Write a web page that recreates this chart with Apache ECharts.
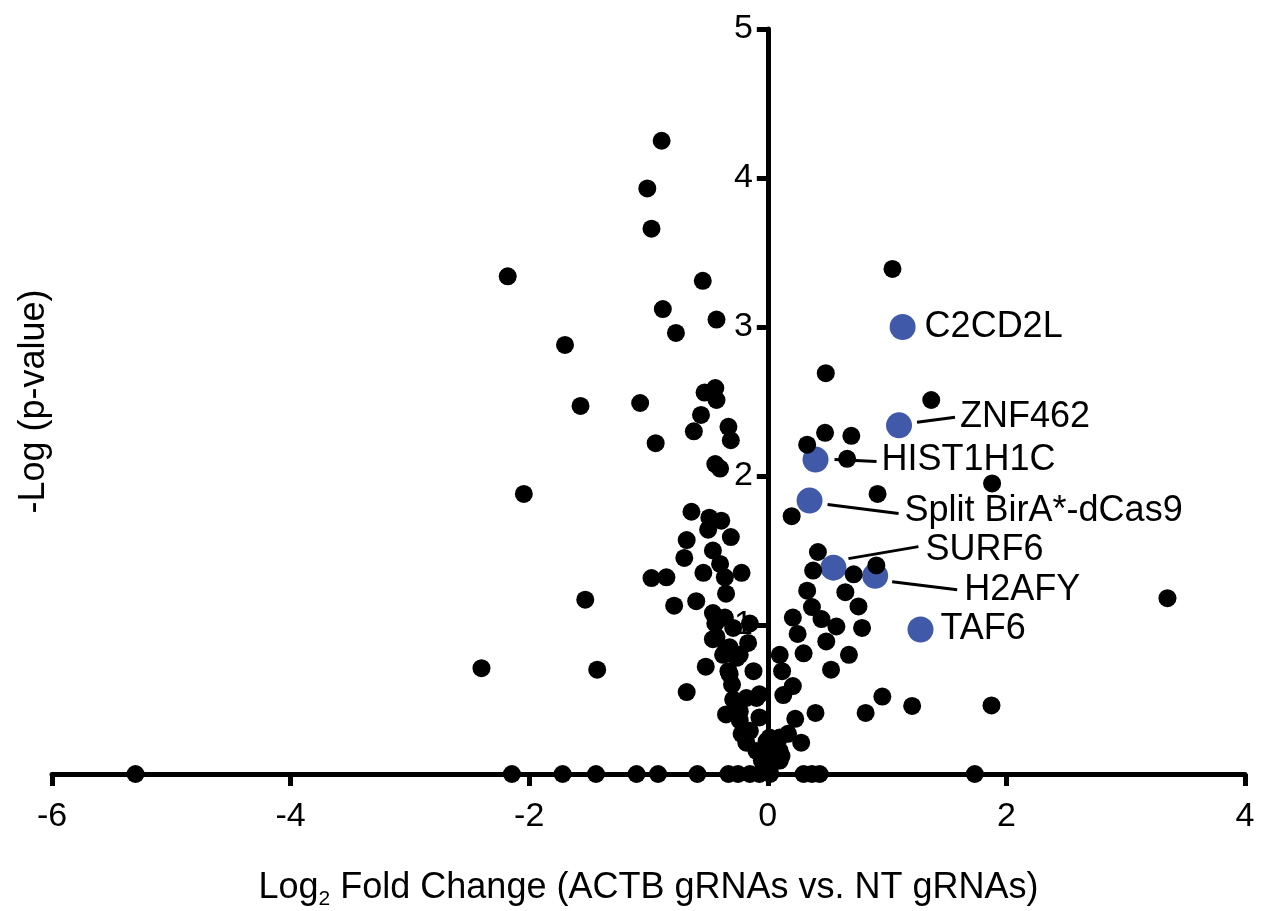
<!DOCTYPE html>
<html><head><meta charset="utf-8">
<script src="https://cdn.jsdelivr.net/npm/echarts@6/dist/echarts.min.js"></script>
<style>html,body{margin:0;padding:0;background:#fff}#c{width:1266px;height:911px}</style>
</head><body><div id="c"></div>
<script>
// ---- data ----
const xTicks = [-6, -4, -2, 0, 2, 4];
const yTicks = [0, 1, 2, 3, 4, 5];
const blackX = [
 -0.89,-1.01,-0.975,-2.18,-0.545,-0.88,-0.43,-0.77,-1.70,-1.57,
 -1.07,-0.53,-0.44,-0.43,-0.56,-0.33,-0.31,-0.62,-0.94,-0.44,
 -0.40,-2.045,-0.64,-0.49,-0.39,-0.50,-0.31,-0.68,-0.46,-0.70,
 -0.40,-0.54,-0.22,-0.975,-0.85,-0.36,-0.35,-1.53,-0.60,-0.785,
 -0.46,-0.36,-0.15,-0.44,-0.46,-0.165,-0.35,-0.26,-0.52,-2.40,
 -1.43,-0.32,-0.12,-0.30,-0.68,-0.07,-0.29,-0.35,-0.235,-0.07,
 -0.22,-0.18,-0.095,-0.05,0.045,0.10,0.12,0.13,-0.43,-0.29,
 -0.32,-0.375,-0.235,-0.33,-0.18,-0.095,-0.235,-0.15,-0.04,0.015,
 0.07,0.015,0.10,-0.01,0.10,
 1.045,0.486,1.37,0.48,0.70,0.33,0.665,1.88,0.92,0.20,
 0.42,0.91,0.38,0.72,0.33,0.65,3.35,0.37,0.76,0.21,
 0.45,0.575,0.79,0.25,0.49,0.30,0.68,0.53,0.21,0.96,
 1.21,1.875,0.82,0.40,0.23,0.28,0.10,0.17,0.115,0.03,
 -5.30,-2.145,-1.72,-1.44,-1.10,-0.92,-0.59,-0.33,-0.25,-0.15,
 -0.07,0.02,0.30,0.37,0.435,1.735
];
const blackY = [
 4.25,3.93,3.66,3.34,3.31,3.12,3.05,2.96,2.88,2.47,
 2.49,2.56,2.59,2.51,2.41,2.33,2.24,2.30,2.22,2.08,
 2.05,1.88,1.76,1.72,1.70,1.64,1.59,1.57,1.50,1.45,
 1.41,1.35,1.35,1.315,1.32,1.32,1.21,1.17,1.16,1.13,
 1.08,1.05,1.01,1.01,0.905,0.88,0.84,0.78,0.72,0.71,
 0.70,0.67,0.69,0.60,0.55,0.535,0.50,0.40,0.42,0.38,
 0.27,0.21,0.155,0.09,0.20,0.80,0.69,0.53,0.92,0.98,
 0.85,0.80,0.80,0.69,0.51,0.51,0.36,0.29,0.09,0.245,
 0.18,0.11,0.09,0.22,0.155,
 3.39,2.69,2.51,2.29,2.27,2.21,2.115,1.95,1.88,1.73,
 1.49,1.40,1.365,1.34,1.23,1.22,1.18,1.12,1.125,1.05,
 1.04,0.99,0.98,0.94,0.89,0.81,0.80,0.70,0.59,0.52,
 0.457,0.46,0.41,0.41,0.37,0.21,0.245,0.27,0.12,0.065,
 0,0,0,0,0,0,0,0,0,0,
 0,0,0,0,0,0
];
const blueNames = ['C2CD2L', 'ZNF462', 'HIST1H1C', 'Split BirA*-dCas9', 'SURF6', 'H2AFY', 'TAF6'];
const blueX = [1.13, 1.10, 0.40, 0.35, 0.55, 0.90, 1.28];
const blueY = [3.00, 2.34, 2.11, 1.835, 1.385, 1.33, 0.97];

// ---- layout (pixels, relative to each highlighted point) ----
const labelPos = [[22,0],[61,-8],[66,0],[95,10],[92,-18],[89,14],[20,0]];
const leaders = [null,[18,-3,56,-8],[19,0,61,2],[18,4,89,13],[15,-9,85,-21],[17,6,82,14],null];

const FONT = "'Liberation Sans', Arial, Helvetica, sans-serif";
const BLUE_R = 13;
const GRID = {left: 52, right: 21, top: 29, bottom: 137};
const W = 1266;
const xMin = xTicks[0], xMax = xTicks[xTicks.length - 1];
// shift the y axis so that it sits on x = 0
const yAxisShift = -(W - GRID.left - GRID.right) * (0 - xMin) / (xMax - xMin);

const chart = echarts.init(document.getElementById('c'), null, {renderer: 'canvas'});
const blackData = blackX.map((x, i) => [x, blackY[i]]);
const blueData = blueX.map((x, i) => ({
  value: [x, blueY[i]],
  name: blueNames[i],
  label: {offset: [labelPos[i][0] - BLUE_R, labelPos[i][1]]}
}));

chart.setOption({
  animation: false,
  backgroundColor: '#fff',
  grid: Object.assign({containLabel: false, outerBoundsMode: 'none'}, GRID),
  xAxis: {
    type: 'value', min: xMin, max: xMax, interval: 2,
    axisLine: {onZero: false, lineStyle: {color: '#000', width: 5}},
    axisTick: {show: true, length: 12, lineStyle: {color: '#000', width: 5}},
    axisLabel: {color: '#000', fontSize: 34, fontFamily: FONT, margin: 26},
    splitLine: {show: false},
    name: '{a|Log}{s|2}{a| Fold Change (ACTB gRNAs vs. NT gRNAs)}',
    nameLocation: 'middle', nameGap: 92,
    nameTextStyle: {
      rich: {
        a: {fontSize: 36, fontFamily: FONT, color: '#000', lineHeight: 44},
        s: {fontSize: 21, fontFamily: FONT, color: '#000', lineHeight: 12, verticalAlign: 'bottom'}
      }
    }
  },
  yAxis: {
    type: 'value', min: yTicks[0], max: yTicks[yTicks.length - 1], interval: 1,
    position: 'left', offset: yAxisShift,
    axisLine: {onZero: false, lineStyle: {color: '#000', width: 5}},
    axisTick: {show: true, length: 11, lineStyle: {color: '#000', width: 5}},
    axisLabel: {color: '#000', fontSize: 34, fontFamily: FONT, margin: 15,
      formatter: v => (v === 0 ? '' : String(v))},
    splitLine: {show: false},
    name: '-Log (p-value)', nameLocation: 'middle', nameGap: 716, nameRotate: 90,
    nameTextStyle: {color: '#000', fontSize: 36, fontFamily: FONT}
  },
  series: [
    {
      type: 'scatter', name: 'highlight', data: blueData, symbolSize: BLUE_R * 2,
      itemStyle: {color: '#4059a9', opacity: 1},
      label: {show: true, position: 'right', distance: 0, formatter: '{b}',
        color: '#000', fontSize: 36, fontFamily: FONT},
      emphasis: {disabled: true}, z: 2
    },
    {
      type: 'scatter', name: 'genes', data: blackData, symbolSize: 18,
      itemStyle: {color: '#000', opacity: 1},
      emphasis: {disabled: true}, z: 3
    }
  ]
});

const gfx = [];
blueX.forEach((x, i) => {
  const L = leaders[i];
  if (!L) return;
  const p = chart.convertToPixel({gridIndex: 0}, [x, blueY[i]]);
  gfx.push({
    type: 'line', z: 1, silent: true,
    shape: {x1: p[0] + L[0], y1: p[1] + L[1], x2: p[0] + L[2], y2: p[1] + L[3]},
    style: {stroke: '#000', lineWidth: 3}
  });
});
chart.setOption({graphic: gfx});
</script>
</body></html>
